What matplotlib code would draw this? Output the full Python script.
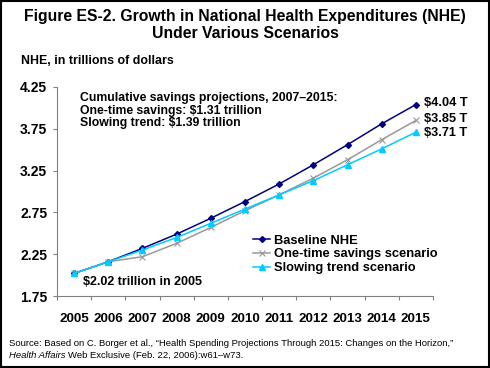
import numpy as np
import matplotlib
matplotlib.use("Agg")
import matplotlib.pyplot as plt
from matplotlib.patches import Rectangle

plt.rcParams['font.family'] = ['Liberation Sans', 'DejaVu Sans']

# data
years = ['2005', '2006', '2007', '2008', '2009', '2010', '2011', '2012', '2013', '2014', '2015']
baseline = [2.02, 2.16, 2.32, 2.49, 2.68, 2.88, 3.09, 3.32, 3.56, 3.81, 4.04]
one_time = [2.02, 2.16, 2.22, 2.38, 2.57, 2.77, 2.96, 3.16, 3.38, 3.62, 3.85]
slowing = [2.02, 2.16, 2.30, 2.45, 2.62, 2.79, 2.96, 3.13, 3.32, 3.51, 3.71]
y_ticks = [1.75, 2.25, 2.75, 3.25, 3.75, 4.25]
end_labels = ['$4.04 T', '$3.85 T', '$3.71 T']

W, H = 490, 368
fig = plt.figure(figsize=(W / 100, H / 100), dpi=100)


def px(x, y):
    # pixel coords (from top-left) -> figure fraction
    return x / W, 1 - y / H


ax = fig.add_axes([57 / W, 1 - 296 / H, (433 - 57) / W, (296 - 87) / H])

x = np.arange(len(years))
ax.plot(x, baseline, color='#000080', marker='D', markersize=3, lw=1.1, label='Baseline NHE')
ax.plot(x, one_time, color='#999999', marker='x', markersize=4, mew=0.8, lw=1.1,
        label='One-time savings scenario')
ax.plot(x, slowing, color='#00CCFF', marker='^', markersize=4, lw=1.1, label='Slowing trend scenario')

ax.set_xlim(-0.5, len(years) - 0.5)
ax.set_ylim(1.75, 4.25)
ax.set_yticks(y_ticks)
ax.set_yticklabels(['%.2f' % v for v in y_ticks], fontweight='bold', fontsize=10)
ax.set_xticks(np.arange(-0.5, len(years), 1))
ax.set_xticklabels([])
ax.set_xticks(x, minor=True)
ax.set_xticklabels(years, minor=True, fontweight='bold', fontsize=9.6)
ax.tick_params(axis='x', which='major', length=3, color='#808080', direction='out')
ax.tick_params(axis='x', which='minor', length=0, pad=12)
ax.tick_params(axis='y', length=3, color='#808080', direction='out', pad=4)
for s in ['top', 'right']:
    ax.spines[s].set_visible(False)
for s in ['left', 'bottom']:
    ax.spines[s].set_color('#808080')
    ax.spines[s].set_linewidth(0.8)

leg = ax.legend(loc='upper left', bbox_to_anchor=(247 / W, 1 - 228 / H), bbox_transform=fig.transFigure,
                frameon=False, prop={'weight': 'bold', 'size': 9.3}, handlelength=1.3,
                handletextpad=0.3, labelspacing=0.15, borderpad=0)

# end labels
for lab, yp in zip(end_labels, [103, 119, 133]):
    fig.text(*px(424, yp), lab, fontsize=9.2, fontweight='bold', va='center')

fig.text(*px(80, 92), 'Cumulative savings projections, 2007\u20132015:\nOne-time savings: $1.31 trillion\n'
         'Slowing trend: $1.39 trillion', fontsize=8.8, fontweight='bold', va='top', linespacing=1.08)
fig.text(*px(83, 282), '$2.02 trillion in 2005', fontsize=9, fontweight='bold', va='center')

# titles
fig.text(0.5, 1 - 16 / H, 'Figure ES-2. Growth in National Health Expenditures (NHE)',
         ha='center', va='center', fontsize=11.3, fontweight='bold')
fig.text(0.5, 1 - 33 / H, 'Under Various Scenarios',
         ha='center', va='center', fontsize=11.3, fontweight='bold')
fig.text(*px(21, 61), 'NHE, in trillions of dollars', fontsize=8.9, fontweight='bold', va='center')

# source
fig.text(*px(9, 343), 'Source: Based on C. Borger et al., \u201cHealth Spending Projections Through 2015: '
         'Changes on the Horizon,\u201d', fontsize=6.8, va='center')
t1 = fig.text(*px(9, 355), 'Health Affairs', fontsize=6.8, va='center', style='italic')
fig.canvas.draw()
bb = t1.get_window_extent()
fig.text((bb.x1 + 2) / W, 1 - 355 / H, 'Web Exclusive (Feb. 22, 2006):w61\u2013w73.', fontsize=6.8, va='center')

fig.patches.append(Rectangle((0.002, 0.003), 0.995, 0.994, transform=fig.transFigure,
                             fill=False, edgecolor='black', lw=1.5))

fig.savefig('out.png', dpi=100)
